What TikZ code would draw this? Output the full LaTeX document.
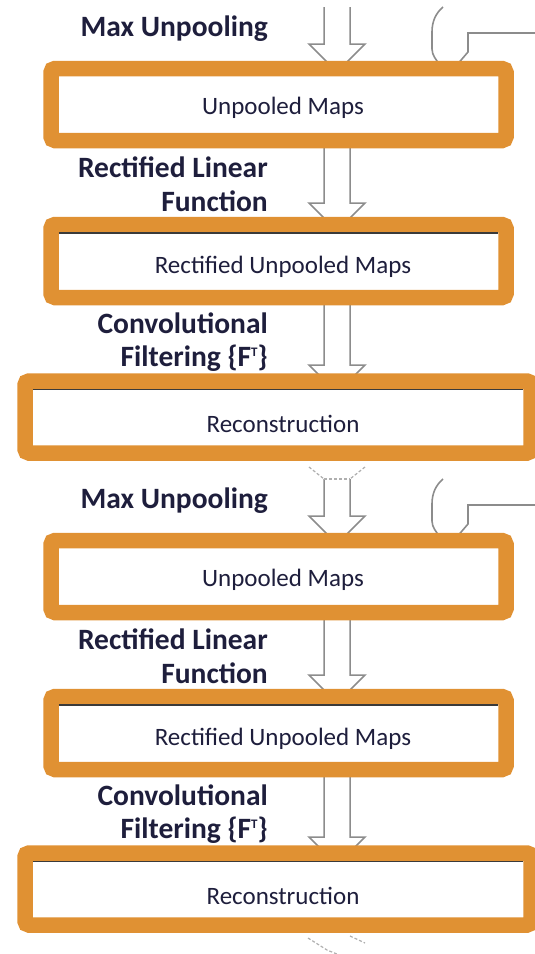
\documentclass[tikz,border=0pt]{standalone}
\usepackage{fontspec}
\setmainfont{Carlito}
\definecolor{hilite}{HTML}{E09133}
\definecolor{arrowgray}{HTML}{8C8C8C}
\definecolor{inkblue}{HTML}{1E1E3C}
\definecolor{rule}{HTML}{3A3A3A}
\tikzset{
  stagebox/.style={draw=hilite, line width=15.5pt, rounded corners=4pt, fill=white,
    inner sep=0pt, outer sep=0pt},
  boxtext/.style={font=\fontsize{25}{25}\selectfont, text=inkblue, anchor=base, inner sep=0pt},
  steplabel/.style={font=\bfseries\fontsize{29.5}{29.5}\selectfont, text=inkblue, anchor=base east, inner sep=0pt},
  flow/.style={draw=arrowgray, line width=1.5pt, line join=miter},
  flowcut/.style={draw=arrowgray!70, line width=1.2pt, dash pattern=on 3pt off 2pt},
  switchline/.style={draw=arrowgray, line width=1.6pt},
  topedge/.style={draw=rule, line width=1.6pt}
}
% small raised T for the transposed filters
\newcommand{\transp}{\raisebox{0.33em}{\fontsize{13}{13}\selectfont T}}
% hollow double-line arrow: shafts at x=324/350, wings at 309/365
\newcommand{\hollowarrow}[2]{%
  \draw[flow] (324,#1) -- (324,#2) -- (309,#2) -- (337,#2+28) -- (365,#2) -- (350,#2) -- (350,#1);}
% switch marker next to each unpooling step
\newcommand{\switchmark}[1]{%
  \begin{scope}[yshift=-#1pt]
    \draw[switchline] (443,7) .. controls (436,13) and (432,21) .. (432,32) -- (432,49)
      .. controls (432,55) and (436,60) .. (441,66);
    \draw[switchline] (456,66) -- (468,52) -- (468,33) -- (540,33);
  \end{scope}}
\begin{document}
\begin{tikzpicture}[x=1pt,y=-1pt]
\useasboundingbox (0,0) rectangle (535,954);
\begin{scope}
\clip (0,0) rectangle (535,954);

% ---- connectors (drawn first, boxes cover the arrow tips) ----
\hollowarrow{7}{44}
\hollowarrow{148}{203}
\hollowarrow{305}{365}
\hollowarrow{479}{516}
\hollowarrow{620}{675}
\hollowarrow{777}{837}
\draw[flowcut] (309,467) -- (324,479);
\draw[flowcut] (365,467) -- (350,479);
\draw[flowcut] (324,479) -- (350,479);
\draw[flowcut] (308,938) -- (327,950) -- (337,954);
\draw[flowcut] (350,936) -- (365,943);
\switchmark{0}
\switchmark{472}

% ---- first stage ----
\node[stagebox, minimum width=455pt, minimum height=72pt] (up1) at (278.5,104.5) {};
\node[stagebox, minimum width=455pt, minimum height=73pt] (ru1) at (278.5,261) {};
\node[stagebox, minimum width=506pt, minimum height=72pt] (rc1) at (278,417) {};

% ---- second stage ----
\node[stagebox, minimum width=455pt, minimum height=72pt] (up2) at (278.5,576.5) {};
\node[stagebox, minimum width=455pt, minimum height=73pt] (ru2) at (278.5,733) {};
\node[stagebox, minimum width=506pt, minimum height=72pt] (rc2) at (278,889) {};

% thin dark top edge inside some boxes
\foreach \b in {ru1,rc1,ru2,rc2}
  \draw[topedge] ([xshift=7.75pt,yshift=-8.6pt]\b.north west) -- ([xshift=-7.75pt,yshift=-8.6pt]\b.north east);

% ---- box captions ----
\node[boxtext] (t1) at (283,114) {Unpooled Maps};
\node[boxtext] (t2) at (283,273) {Rectified Unpooled Maps};
\node[boxtext] (t3) at (283,432) {Reconstruction};
\node[boxtext] (t4) at (283,586) {Unpooled Maps};
\node[boxtext] (t5) at (283,745) {Rectified Unpooled Maps};
\node[boxtext] (t6) at (283,904) {Reconstruction};

% ---- step labels ----
\node[steplabel] (l1) at (268,36) {Max Unpooling};
\node[steplabel] (l2a) at (268,177) {Rectified Linear};
\node[steplabel] (l2b) at (268,211) {Function};
\node[steplabel] (l3a) at (268,333) {Convolutional};
\node[steplabel] (l3b) at (268,366) {Filtering \{F\transp\}};
\node[steplabel] (l4) at (268,508) {Max Unpooling};
\node[steplabel] (l5a) at (268,649) {Rectified Linear};
\node[steplabel] (l5b) at (268,683) {Function};
\node[steplabel] (l6a) at (268,805) {Convolutional};
\node[steplabel] (l6b) at (268,838) {Filtering \{F\transp\}};
\end{scope}
\end{tikzpicture}
\end{document}
